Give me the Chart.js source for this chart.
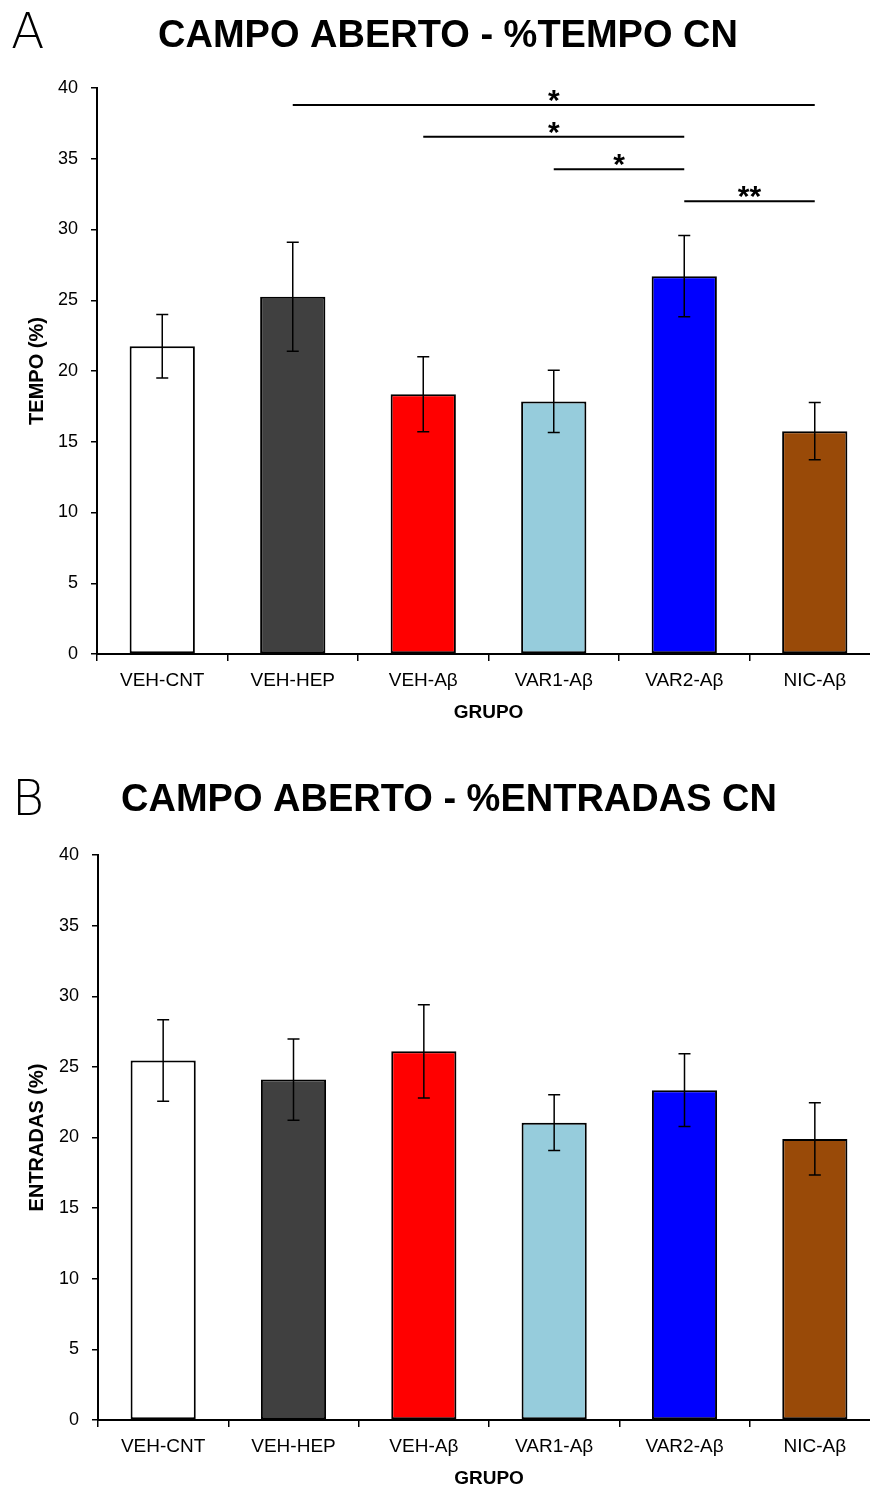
<!DOCTYPE html>
<html>
<head>
<meta charset="utf-8">
<script src="https://cdn.jsdelivr.net/npm/chart.js@4"></script>
<style>
  html, body { margin: 0; padding: 0; background: #fff; overflow: hidden; }
  canvas { display: block; }
</style>
</head>
<body>
<canvas id="graficoA" width="882" height="767"></canvas>
<canvas id="graficoB" width="882" height="723"></canvas>
<script>
var grupos = ['VEH-CNT', 'VEH-HEP', 'VEH-Aβ', 'VAR1-Aβ', 'VAR2-Aβ', 'NIC-Aβ'];
var coresBarras = ['#ffffff', '#404040', '#ff0000', '#96ccdc', '#0000ff', '#994a08'];

// painel A - % tempo no centro
var tempoMedia = [21.75, 25.25, 18.35, 17.85, 26.7, 15.75];
var tempoErro = [2.25, 3.85, 2.65, 2.2, 2.87, 2.02];

// painel B - % entradas no centro
var entradasMedia = [25.45, 24.1, 26.1, 21.05, 23.35, 19.9];
var entradasErro = [2.88, 2.87, 3.3, 1.97, 2.58, 2.56];

// comparacoes significativas (painel A)
var sigDe = [1, 2, 3, 4];
var sigAte = [5, 4, 4, 5];
var sigAltura = [38.8, 36.55, 34.25, 32.0];
var sigTexto = ['*', '*', '*', '**'];

var eixoMin = 0;
var eixoMax = 40;
var eixoPasso = 5;

var barrasErro = {
    id: 'barrasErro',
    afterDatasetsDraw: function(chart){
        var ctx = chart.ctx;
        var meta = chart.getDatasetMeta(0);
        var y = chart.scales.y;
        var erro = chart.options.plugins.barrasErro.erro;
        var media = chart.data.datasets[0].data;
        ctx.save();
        ctx.strokeStyle = '#000';
        ctx.lineWidth = 1.5;
        for(var i = 0; i < meta.data.length; i++){
            var x = meta.data[i].x;
            var topo = y.getPixelForValue(media[i] + erro[i]);
            var base = y.getPixelForValue(media[i] - erro[i]);
            ctx.beginPath();
            ctx.moveTo(x, topo); ctx.lineTo(x, base);
            ctx.moveTo(x - 6, topo); ctx.lineTo(x + 6, topo);
            ctx.moveTo(x - 6, base); ctx.lineTo(x + 6, base);
            ctx.stroke();
        }
        ctx.restore();
    }
};

var significancia = {
    id: 'significancia',
    afterDraw: function(chart){
        var op = chart.options.plugins.significancia;
        if(!op.de) return;
        var ctx = chart.ctx;
        var x = chart.scales.x;
        var y = chart.scales.y;
        ctx.save();
        ctx.strokeStyle = '#000';
        ctx.fillStyle = '#000';
        ctx.lineWidth = 2;
        ctx.font = 'bold 30px "Liberation Sans", Arial, sans-serif';
        ctx.textAlign = 'center';
        ctx.textBaseline = 'alphabetic';
        for(var i = 0; i < op.de.length; i++){
            var x1 = x.getPixelForValue(op.de[i]);
            var x2 = x.getPixelForValue(op.ate[i]);
            var yy = y.getPixelForValue(op.altura[i]);
            ctx.beginPath();
            ctx.moveTo(x1, yy); ctx.lineTo(x2, yy);
            ctx.stroke();
            ctx.fillText(op.texto[i], (x1 + x2) / 2, yy + 5);
        }
        ctx.restore();
    }
};

var cabecalho = {
    id: 'cabecalho',
    afterDraw: function(chart){
        var op = chart.options.plugins.cabecalho;
        var ctx = chart.ctx;
        ctx.save();
        ctx.fillStyle = '#000';
        ctx.textBaseline = 'alphabetic';
        ctx.textAlign = 'left';
        ctx.font = '200 49px "DejaVu Sans", "Liberation Sans", sans-serif';
        ctx.fillText(op.letra, op.letraX, op.letraY);
        ctx.textAlign = 'center';
        ctx.font = 'bold 38px "Liberation Sans", Arial, sans-serif';
        ctx.fillText(op.titulo, op.tituloX, op.tituloY);
        ctx.restore();
    }
};

function criaGrafico(id, cab, tituloY, media, erro, sig, larguraY, alturaX, padTitulo){
    var ctx = document.getElementById(id);
    return new Chart(ctx, {
        type: 'bar',
        data: {
            labels: grupos,
            datasets: [{
                data: media,
                backgroundColor: coresBarras,
                borderColor: '#000',
                borderWidth: 2,
                borderSkipped: false,
                barPercentage: 0.5,
                categoryPercentage: 1.0
            }]
        },
        options: {
            responsive: false,
            animation: false,
            layout: { padding: { top: 88, left: 0, right: 2, bottom: 0 } },
            plugins: {
                legend: { display: false },
                tooltip: { enabled: false },
                title: { display: false },
                barrasErro: { erro: erro },
                significancia: sig,
                cabecalho: cab
            },
            scales: {
                x: {
                    offset: true,
                    grid: { offset: true, drawOnChartArea: false, drawTicks: true, tickLength: 7, color: '#000', lineWidth: 1.5 },
                    border: { display: true, color: '#000', width: 2 },
                    ticks: { color: '#000', padding: 8, font: { family: '"Liberation Sans", Arial, sans-serif', size: 19 } },
                    title: {
                        display: true, text: 'GRUPO', color: '#000',
                        font: { family: '"Liberation Sans", Arial, sans-serif', size: 19, weight: 'bold' },
                        padding: { top: 0, bottom: padTitulo }
                    },
                    afterFit: function(scale){ scale.height = alturaX; }
                },
                y: {
                    min: eixoMin,
                    max: eixoMax,
                    grid: { drawOnChartArea: false, drawTicks: true, tickLength: 6, color: '#000', lineWidth: 1.5 },
                    border: { display: true, color: '#000', width: 2 },
                    ticks: { stepSize: eixoPasso, color: '#000', padding: 13, font: { family: '"Liberation Sans", Arial, sans-serif', size: 18 } },
                    title: {
                        display: true, text: tituloY, color: '#000',
                        font: { family: '"Liberation Sans", Arial, sans-serif', size: 20, weight: 'bold' },
                        padding: { top: 25, bottom: 0 }
                    },
                    afterFit: function(scale){ scale.width = larguraY; }
                }
            }
        },
        plugins: [barrasErro, significancia, cabecalho]
    });
}

criaGrafico('graficoA',
    { letra: 'A', letraX: 11, letraY: 48, titulo: 'CAMPO ABERTO - %TEMPO CN', tituloX: 448, tituloY: 47 },
    'TEMPO (%)', tempoMedia, tempoErro,
    { de: sigDe, ate: sigAte, altura: sigAltura, texto: sigTexto },
    97, 113, 43);

criaGrafico('graficoB',
    { letra: 'B', letraX: 12, letraY: 48, titulo: 'CAMPO ABERTO - %ENTRADAS CN', tituloX: 449, tituloY: 44 },
    'ENTRADAS (%)', entradasMedia, entradasErro,
    {},
    98, 70, 0);
</script>
</body>
</html>
